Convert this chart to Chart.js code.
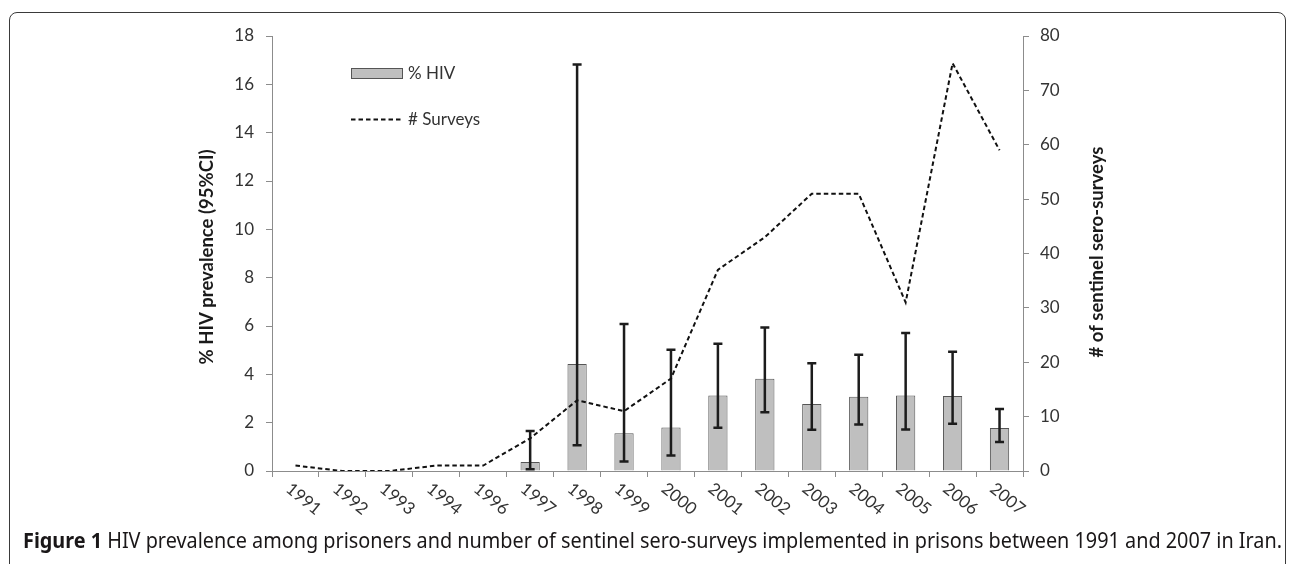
<!DOCTYPE html>
<html>
<head>
<meta charset="utf-8">
<script src="https://cdn.jsdelivr.net/npm/chart.js@4.4.1/dist/chart.umd.min.js"></script>
<style>
  html, body { margin:0; padding:0; background:#fff; width:1293px; height:564px; overflow:hidden; }
  #frame { position:absolute; left:9px; top:12px; width:1277px; height:620px; border:1.5px solid #3a3a3a; border-radius:8px; box-sizing:border-box; }
  #wrap { position:absolute; left:0; top:0; width:1293px; height:564px; }
  #caption { position:absolute; left:23px; top:528px; font-family:"Noto Sans", "Open Sans", sans-serif; font-size:22px; line-height:22px; white-space:nowrap; color:#1a1718; transform-origin:0 0; display:inline-block; }
  #caption b { font-weight:700; }
</style>
</head>
<body>
<div id="frame"></div>
<div id="wrap"><canvas id="c" width="1293" height="564"></canvas></div>
<div id="caption"><b>Figure 1</b> HIV prevalence among prisoners and number of sentinel sero-surveys implemented in prisons between 1991 and 2007 in Iran.</div>
<script>
// ---- data ----
const years = ['1991','1992','1993','1994','1996','1997','1998','1999','2000','2001','2002','2003','2004','2005','2006','2007'];
const hivPct = [null, null, null, null, null, 0.37, 4.43, 1.56, 1.80, 3.12, 3.82, 2.77, 3.07, 3.12, 3.10, 1.78];
const ciLow  = [null, null, null, null, null, 0.07, 1.07, 0.39, 0.64, 1.79, 2.43, 1.71, 1.92, 1.72, 1.96, 1.20];
const ciHigh = [null, null, null, null, null, 1.66, 16.82, 6.08, 5.02, 5.27, 5.94, 4.46, 4.81, 5.71, 4.93, 2.57];
const surveys = [1, 0, 0, 1, 1, 6, 13, 11, 17, 37, 43, 51, 51, 31, 75, 59];
const leftTitle = '% HIV prevalence (95%CI)';
const rightTitle = '# of sentinel sero-surveys';
const barLabel = '% HIV';
const lineLabel = '# Surveys';

const AXIS = '#8c8c8c';
const TXT = '#333333';
const FONT = 'Lato, "Open Sans", sans-serif';

const errorBars = {
  id: 'errorBars',
  afterDatasetDraw(chart, args) {
    if (args.index !== 1) return;
    const ctx = chart.ctx, y = chart.scales.y;
    const meta = chart.getDatasetMeta(1);
    ctx.save();
    ctx.strokeStyle = '#1c1c1c';
    ctx.lineWidth = 2.5;
    meta.data.forEach((bar, i) => {
      if (ciLow[i] == null) return;
      const x = bar.x;
      const yl = y.getPixelForValue(ciLow[i]);
      const yh = y.getPixelForValue(ciHigh[i]);
      ctx.beginPath();
      ctx.moveTo(x, yl); ctx.lineTo(x, yh);
      ctx.moveTo(x - 4.5, yl); ctx.lineTo(x + 4.5, yl);
      ctx.moveTo(x - 4.5, yh); ctx.lineTo(x + 4.5, yh);
      ctx.stroke();
    });
    ctx.restore();
  }
};

const decorations = {
  id: 'decorations',
  afterDraw(chart) {
    const ctx = chart.ctx, xs = chart.scales.x, area = chart.chartArea;
    ctx.save();
    // rotated x labels
    ctx.font = '17px ' + FONT;
    ctx.fillStyle = TXT;
    ctx.textAlign = 'left';
    ctx.textBaseline = 'top';
    years.forEach((lab, i) => {
      const x = xs.getPixelForValue(i);
      ctx.save();
      ctx.translate(x - 2, area.bottom + 9);
      ctx.rotate(39 * Math.PI / 180);
      ctx.fillText(lab, 0, 0);
      ctx.restore();
    });
    // axis titles
    ctx.font = 'bold 18.5px ' + FONT;
    ctx.fillStyle = '#1a1a1a';
    ctx.textAlign = 'center';
    ctx.textBaseline = 'middle';
    ctx.save(); ctx.translate(207, 257); ctx.rotate(-Math.PI / 2); ctx.fillText(leftTitle, 0, 0); ctx.restore();
    ctx.save(); ctx.translate(1097, 252); ctx.rotate(-Math.PI / 2); ctx.fillText(rightTitle, 0, 0); ctx.restore();
    // legend
    ctx.fillStyle = '#BFBFBF';
    ctx.fillRect(351, 68, 52, 11);
    ctx.strokeStyle = '#555';
    ctx.lineWidth = 1;
    ctx.strokeRect(351.5, 68.5, 51, 10);
    ctx.beginPath();
    ctx.setLineDash([4.5, 3]);
    ctx.strokeStyle = '#111';
    ctx.lineWidth = 2;
    ctx.moveTo(351, 119.5); ctx.lineTo(403, 119.5);
    ctx.stroke();
    ctx.setLineDash([]);
    ctx.font = '17px ' + FONT;
    ctx.fillStyle = TXT;
    ctx.textAlign = 'left';
    ctx.fillText(barLabel, 408, 74);
    ctx.fillText(lineLabel, 408, 120);
    ctx.restore();
  }
};

new Chart(document.getElementById('c'), {
  type: 'bar',
  data: {
    labels: years,
    datasets: [
      { type: 'line', label: lineLabel, data: surveys, yAxisID: 'y1', borderColor: '#111', borderWidth: 2,
        borderDash: [4.5, 3], pointRadius: 0, fill: false, tension: 0, order: 0 },
      { type: 'bar', label: barLabel, data: hivPct, yAxisID: 'y', backgroundColor: '#BFBFBF',
        borderColor: '#555', borderWidth: 1, borderSkipped: 'start', barPercentage: 0.41, categoryPercentage: 1, order: 1 }
    ]
  },
  options: {
    responsive: false, animation: false, devicePixelRatio: 1,
    layout: { padding: { left: 199, right: 184, top: 36, bottom: 0 } },
    plugins: { legend: { display: false }, tooltip: { enabled: false } },
    scales: {
      x: {
        offset: true,
        grid: { offset: true, display: true, drawOnChartArea: false, drawTicks: true, tickLength: 6, color: AXIS },
        border: { color: AXIS, width: 1 },
        ticks: { display: false },
        afterFit(s) { s.height = 93; }
      },
      y: {
        position: 'left', min: 0, max: 18,
        ticks: { stepSize: 2, padding: 12, font: { family: FONT, size: 17 }, color: TXT },
        grid: { drawOnChartArea: false, tickLength: 6, color: AXIS },
        border: { color: AXIS, width: 1 },
        afterFit(s) { s.width = 73; }
      },
      y1: {
        position: 'right', min: 0, max: 80,
        ticks: { stepSize: 10, padding: 11, font: { family: FONT, size: 17 }, color: TXT },
        grid: { drawOnChartArea: false, tickLength: 6, color: AXIS },
        border: { color: AXIS, width: 1 },
        afterFit(s) { s.width = 86; }
      }
    }
  },
  plugins: [errorBars, decorations]
});

// fit caption width
const cap = document.getElementById('caption');
const w = cap.getBoundingClientRect().width;
const target = 1259;
cap.style.transform = 'scaleX(' + (target / w) + ')';
</script>
</body>
</html>
